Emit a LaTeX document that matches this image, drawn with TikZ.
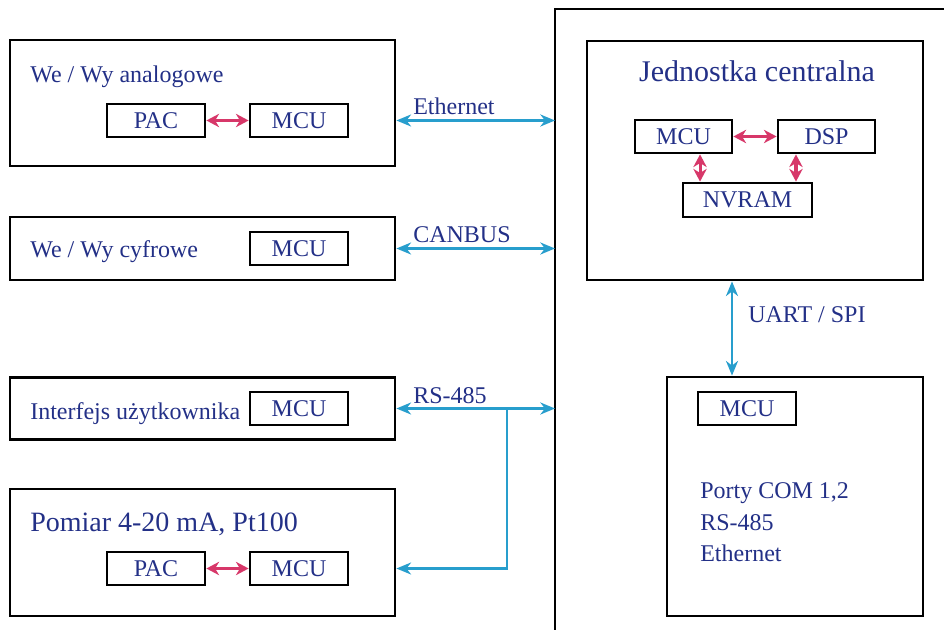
\documentclass[tikz,border=0pt]{standalone}
\usepackage{fontspec}
\setmainfont{Liberation Serif}
\usetikzlibrary{arrows.meta,calc}
\definecolor{txtblue}{RGB}{35,48,135}
\definecolor{linkblue}{RGB}{40,158,205}
\definecolor{linkred}{RGB}{215,55,105}
\begin{document}
\begin{tikzpicture}[x=0.75pt,y=-0.75pt,
  frame/.style={draw=black, line width=2.1pt, inner sep=0pt},
  chip/.style={draw=black, line width=2.1pt, inner sep=0pt, minimum width=73.5pt, minimum height=24.75pt, text=txtblue, font=\fontsize{18pt}{20pt}\selectfont},
  lbl/.style={text=txtblue, font=\fontsize{18pt}{20pt}\selectfont, inner sep=0pt, anchor=base west},
  bus/.style={draw=linkblue, line width=2pt, {Stealth[length=11pt,width=9pt,inset=3.5pt]}-{Stealth[length=11pt,width=9pt,inset=3.5pt]}},
  busin/.style={draw=linkblue, line width=2pt, -{Stealth[length=11pt,width=9pt,inset=3.5pt]}},
  link/.style={draw=linkred, line width=2.3pt, {Stealth[length=9.5pt,width=10pt,inset=3pt]}-{Stealth[length=9.5pt,width=10pt,inset=3pt]}}
]
\useasboundingbox (0,0) rectangle (944,630);
% outer frame (cut by the picture's edges)
\coordinate (ofb) at (555,630);
\coordinate (outer) at (555,9);
\coordinate (ofr) at (944,9);
\draw[line width=2.1pt] (ofb) -- (outer) -- (ofr);

% left modules
\node[frame, minimum width=288.75pt, minimum height=94.5pt] (box1) at (202.5,103) {};
\node[lbl] (t1) at (30,83) {We / Wy analogowe};
\node[chip] (pac1) at (156,120.5) {PAC};
\node[chip] (mcu1) at (299,120.5) {MCU};

\node[frame, minimum width=288.75pt, minimum height=47.25pt] (box2) at (202.5,248.5) {};
\node[lbl] (t2) at (30,258) {We / Wy cyfrowe};
\node[chip] (mcu2) at (299,248.5) {MCU};

\node[frame, minimum width=288.75pt, minimum height=46.5pt] (box3) at (202.5,408.5) {};
\node[lbl] (t3) at (30,419) {Interfejs użytkownika};
\node[chip] (mcu3) at (299,408.5) {MCU};

\node[frame, minimum width=288.75pt, minimum height=95.25pt] (box4) at (202.5,552.5) {};
\node[lbl, font=\fontsize{21pt}{23pt}\selectfont] (t4) at (30,531) {Pomiar 4-20 mA, Pt100};
\node[chip] (pac4) at (156,568.5) {PAC};
\node[chip] (mcu4) at (299,568.5) {MCU};

% central unit
\node[frame, minimum width=252pt, minimum height=179.25pt] (cpu) at (755,160.5) {};
\node[text=txtblue, font=\fontsize{22.5pt}{25pt}\selectfont, inner sep=0pt, anchor=base] (tc) at (757,82) {Jednostka centralna};
\node[chip, minimum width=72.75pt] (mcuc) at (683.5,136.5) {MCU};
\node[chip, minimum width=72.75pt] (dsp) at (826.5,136.5) {DSP};
\node[chip, minimum width=96.75pt, minimum height=25.5pt] (nvram) at (747.5,200) {NVRAM};

% communication module
\node[frame, minimum width=192pt, minimum height=179.25pt] (com) at (795,496.5) {};
\node[chip] (mcucom) at (747,408.5) {MCU};
\node[lbl] (p1) at (700,498) {Porty COM 1,2};
\node[lbl] (p2) at (700,530) {RS-485};
\node[lbl] (p3) at (700,561) {Ethernet};

% red internal links
\draw[link] (pac1) -- (mcu1);
\draw[link] (pac4) -- (mcu4);
\draw[link] (mcuc) -- (dsp);
\draw[link] ([xshift=12.4pt]mcuc.south) -- ([xshift=12.4pt]mcuc.south |- nvram.north);
\draw[link] ([xshift=-22.9pt]dsp.south) -- ([xshift=-22.9pt]dsp.south |- nvram.north);

% buses
\draw[bus] (mcu1 -| box1.east) -- (mcu1 -| outer);
\node[lbl] (leth) at (413,115) {Ethernet};
\draw[bus] (mcu2 -| box2.east) -- (mcu2 -| outer);
\node[lbl] (lcan) at (413,243) {CANBUS};
\draw[bus] (mcu3 -| box3.east) -- (mcu3 -| outer);
\node[lbl] (lrs) at (413,403) {RS-485};
\coordinate (split) at (507,408.5);
\draw[busin, line join=miter] (split) |- (mcu4 -| box4.east);
\coordinate (uartx) at (732,300);
\draw[bus] (cpu.south -| uartx) -- (com.north -| uartx);
\node[lbl] (luart) at (748,323) {UART / SPI};
\end{tikzpicture}
\end{document}
